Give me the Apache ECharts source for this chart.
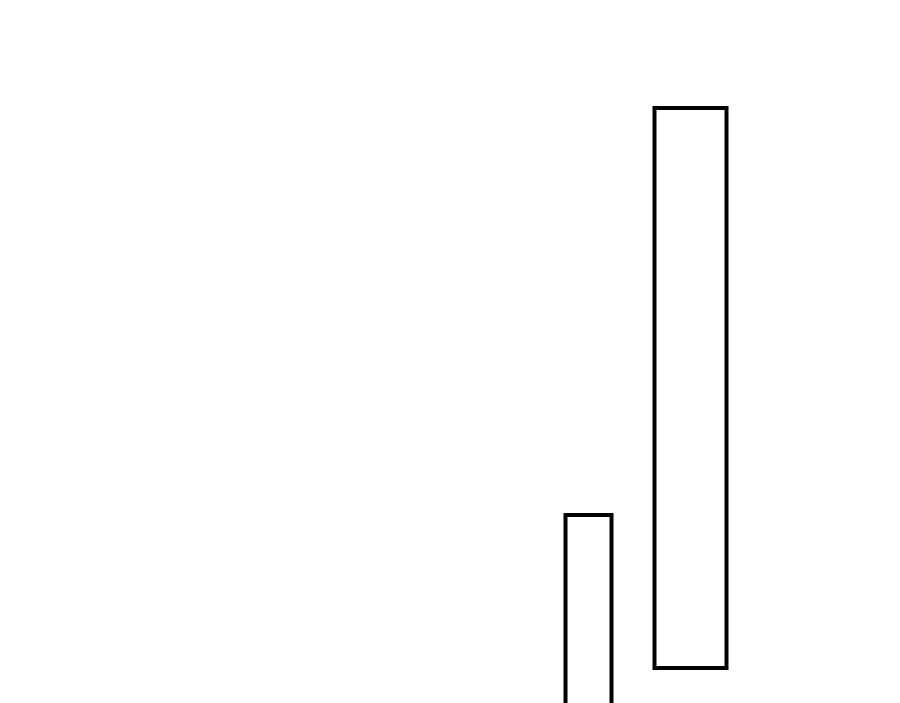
<!DOCTYPE html>
<html>
<head>
<meta charset="utf-8">
<script src="https://cdn.jsdelivr.net/npm/echarts@6/dist/echarts.min.js"></script>
<style>html,body{margin:0;padding:0;background:#fff}#c{width:900px;height:703px}</style>
</head>
<body>
<div id="c"></div>
<script>
// Rectangles: each has a horizontal extent [xStart, xEnd] and vertical extent [yLow, yHigh]
const xStart = [565.5, 654.5];
const xEnd   = [611.5, 726.5];
const yLow   = [-20, 35];
const yHigh  = [188, 595];

const data = xStart.map((v, i) => [v, xEnd[i], yLow[i], yHigh[i]]);

const chart = echarts.init(document.getElementById('c'), null, {renderer: 'canvas'});
chart.setOption({
  animation: false,
  backgroundColor: '#ffffff',
  grid: {left: 0, right: 0, top: 0, bottom: 0},
  xAxis: {type: 'value', min: 0, max: 900, show: false},
  yAxis: {type: 'value', min: 0, max: 703, show: false},
  series: [{
    type: 'custom',
    clip: false,
    data: data,
    encode: {x: [0, 1], y: [2, 3]},
    renderItem: function (params, api) {
      const p1 = api.coord([api.value(0), api.value(3)]);
      const p2 = api.coord([api.value(1), api.value(2)]);
      return {
        type: 'rect',
        shape: {x: p1[0], y: p1[1], width: p2[0] - p1[0], height: p2[1] - p1[1]},
        style: {fill: 'none', stroke: '#000', lineWidth: 4}
      };
    }
  }]
});
</script>
</body>
</html>
